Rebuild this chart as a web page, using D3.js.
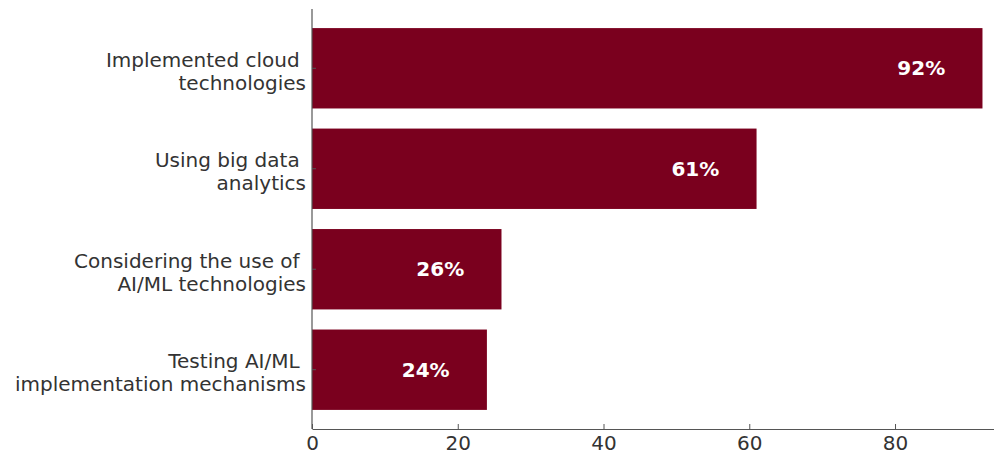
<!DOCTYPE html>
<html>
<head>
<meta charset="utf-8">
<script src="https://cdn.jsdelivr.net/npm/d3@7"></script>
<style>
  html, body { margin: 0; padding: 0; background: #fff; }
  svg { display: block; }
</style>
</head>
<body>
<svg id="chart" width="994" height="453"></svg>
<script>
// Share of organisations by technology adoption stage (%)
const categories = [
  ["Implemented cloud ", "technologies"],
  ["Using big data ", "analytics"],
  ["Considering the use of ", "AI/ML technologies"],
  ["Testing AI/ML ", "implementation mechanisms"]
];
const values = [92, 61, 26, 24];
const xTicks = [0, 20, 40, 60, 80];

const svg = d3.select("#chart");
const font = "'DejaVu Sans', sans-serif";
const barColor = "#7a001e";
const axisColor = "#555";
const textColor = "#333";

const plotLeft = 312, plotRight = 1016, plotTop = 9, plotBottom = 429;

const x = d3.scaleLinear().domain([0, 96.6]).range([plotLeft, plotRight]);
// vertical positions: bars of 0.8 height with 5% margins, first category on top
const y = d3.scaleLinear().domain([3.59, -0.59]).range([plotTop, plotBottom]);
const idx = i => 3 - i; // top-to-bottom order

const g = svg.append("g");

g.selectAll("rect.bar")
  .data(values)
  .join("rect")
  .attr("class", "bar")
  .attr("x", x(0))
  .attr("y", (d, i) => y(idx(i) + 0.4))
  .attr("width", d => x(d) - x(0))
  .attr("height", (d, i) => y(idx(i) - 0.4) - y(idx(i) + 0.4))
  .attr("fill", barColor);

// value labels inside bars
g.selectAll("text.val")
  .data(values)
  .join("text")
  .attr("class", "val")
  .attr("x", d => x(d - 8.4))
  .attr("y", (d, i) => y(idx(i)))
  .attr("dy", "0.35em")
  .attr("text-anchor", "middle")
  .attr("font-family", font)
  .attr("font-weight", "bold")
  .attr("font-size", 20)
  .attr("fill", "#fff")
  .text(d => d + "%");

// x axis
const xAxis = d3.axisBottom(x).tickValues(xTicks).tickSizeInner(-5).tickSizeOuter(0).tickPadding(7);
const gx = svg.append("g").attr("transform", `translate(0,${plotBottom})`).call(xAxis);
gx.select(".domain").attr("stroke", axisColor).attr("stroke-width", 1.2);
gx.selectAll(".tick line").attr("stroke", axisColor);
gx.selectAll(".tick text").attr("font-family", font).attr("font-size", 20).attr("fill", textColor);

// y axis
const gy = svg.append("g").attr("transform", `translate(${plotLeft},0)`);
gy.append("line").attr("x1", 0).attr("x2", 0).attr("y1", plotTop).attr("y2", plotBottom)
  .attr("stroke", axisColor).attr("stroke-width", 1.2);
gy.selectAll("line.tick")
  .data(values)
  .join("line")
  .attr("class", "tick")
  .attr("x1", 0).attr("x2", 4)
  .attr("y1", (d, i) => y(idx(i))).attr("y2", (d, i) => y(idx(i)))
  .attr("stroke", axisColor);

const labels = gy.selectAll("text.cat")
  .data(categories)
  .join("text")
  .attr("class", "cat")
  .attr("x", -6)
  .attr("y", (d, i) => y(idx(i)))
  .attr("text-anchor", "end")
  .attr("font-family", font)
  .attr("font-size", 20)
  .attr("fill", textColor)
  .style("white-space", "pre");
labels.selectAll("tspan")
  .data(d => d.map((t, k) => ({ t, k })))
  .join("tspan")
  .attr("x", -6)
  .attr("dy", d => d.k === 0 ? "-0.08em" : "1.15em")
  .text(d => d.t);
</script>
</body>
</html>
